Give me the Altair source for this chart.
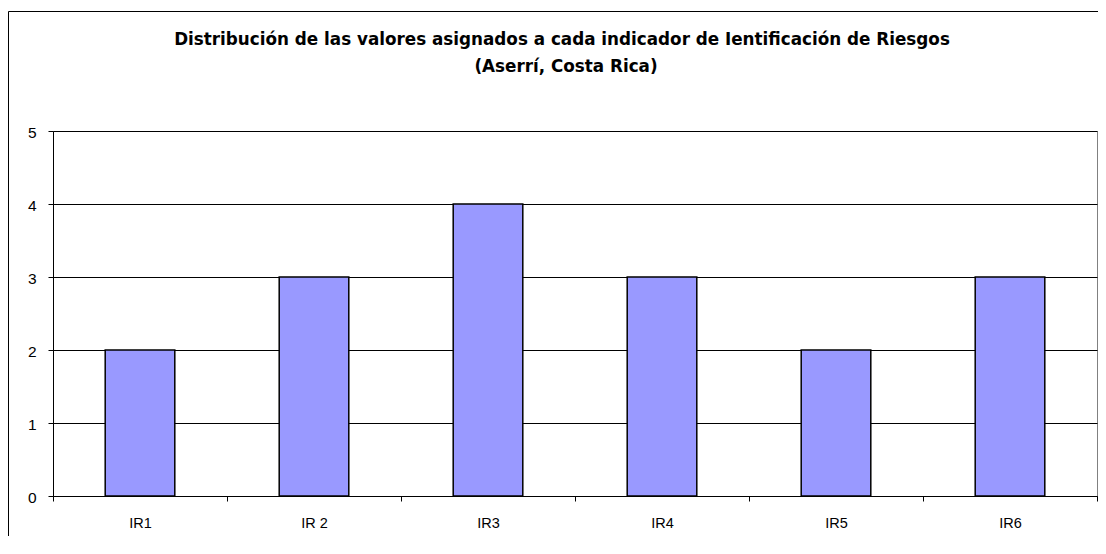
import altair as alt
import pandas as pd

categories = ["IR1", "IR 2", "IR3", "IR4", "IR5", "IR6"]
values = [2, 3, 4, 3, 2, 3]
y_ticks = [0, 1, 2, 3, 4, 5]
title_line1 = "Distribución de las valores asignados a cada indicador de Ientificación de Riesgos"
title_line2 = "(Aserrí, Costa Rica)"

df = pd.DataFrame({"cat": categories, "val": values})

W, H = 1044, 365
label_font = "Liberation Sans"
title_font = "DejaVu Sans"

bars = alt.Chart(df).mark_bar(
    width=alt.RelativeBandSize(0.4), color="#9999FF", stroke="#000000", strokeWidth=1.5
).encode(
    x=alt.X("cat:N", sort=categories,
            scale=alt.Scale(paddingInner=0, paddingOuter=0),
            axis=alt.Axis(title=None, labelAngle=0, tickBand="extent", grid=False,
                          labelFont=label_font, labelFontSize=14.5, labelColor="#000",
                          labelPadding=15, tickSize=5, tickColor="#000",
                          domainColor="#000")),
    y=alt.Y("val:Q", scale=alt.Scale(domain=[0, 5], nice=False),
            axis=alt.Axis(title=None, values=y_ticks, format="d", grid=True,
                          gridColor="#000", gridWidth=1,
                          labelFont=label_font, labelFontSize=15.5, labelColor="#000",
                          labelPadding=12, tickSize=5, tickColor="#000",
                          domainColor="#000", labelOffset=1)),
)

t1 = alt.Chart(pd.DataFrame({"t": [title_line1]})).mark_text(
    font=title_font, fontSize=16.8, fontWeight="bold", color="#000",
    align="center", baseline="alphabetic"
).encode(text="t:N", x=alt.value(509), y=alt.value(-86))

t2 = alt.Chart(pd.DataFrame({"t": [title_line2]})).mark_text(
    font=title_font, fontSize=16.8, fontWeight="bold", color="#000",
    align="center", baseline="alphabetic"
).encode(text="t:N", x=alt.value(513), y=alt.value(-59))

frame_df = pd.DataFrame({"k": [0]})
left_line = alt.Chart(frame_df).mark_rule(color="#000", strokeWidth=1).encode(
    x=alt.value(-44.5), y=alt.value(-119.5), y2=alt.value(H + 60))
top_line = alt.Chart(frame_df).mark_rule(color="#000", strokeWidth=1).encode(
    x=alt.value(-44.5), x2=alt.value(W + 60), y=alt.value(-119.5))

chart = alt.layer(bars, t1, t2, left_line, top_line).properties(
    width=W, height=H,
    autosize=alt.AutoSizeParams(type="none"),
    padding={"left": 45, "top": 123, "right": 1, "bottom": 40},
    background="white",
).configure_view(stroke="#808080", strokeWidth=1)

chart.save("out.html", embed_options={"renderer": "svg", "actions": False})
